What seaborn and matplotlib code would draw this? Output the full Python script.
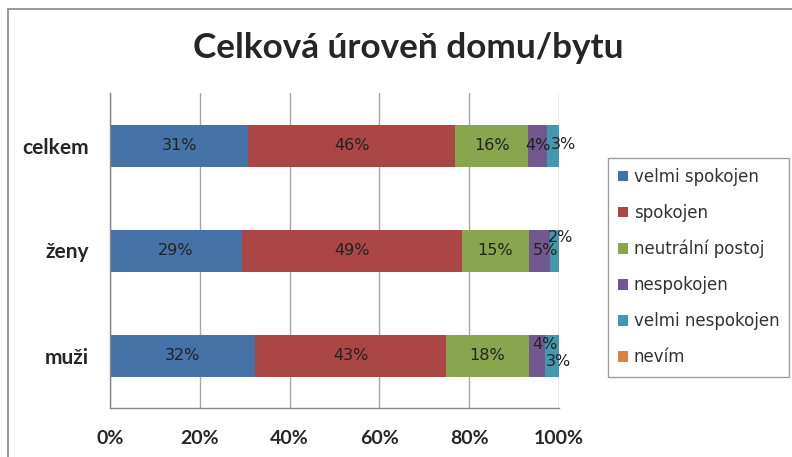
import matplotlib
matplotlib.use("Agg")
import matplotlib.pyplot as plt
import seaborn as sns
import pandas as pd
import numpy as np
from matplotlib.patches import Patch
from matplotlib.lines import Line2D

# ---- data ----
categories = ["celkem", "ženy", "muži"]
series_names = ["velmi spokojen", "spokojen", "neutrální postoj",
                "nespokojen", "velmi nespokojen", "nevím"]
velmi_spokojen = [30.8, 29.3, 32.3]
spokojen = [46.0, 49.1, 42.6]
neutralni = [16.4, 14.9, 18.4]
nespokojen = [4.1, 4.6, 3.6]
velmi_nespokojen = [2.7, 2.1, 3.1]
nevim = [0.0, 0.0, 0.0]
x_ticks = [0, 20, 40, 60, 80, 100]
x_tick_labels = ["0%", "20%", "40%", "60%", "80%", "100%"]
title = "Celková úroveň domu/bytu"

# ---- styles ----
colors = ["#4572A7", "#AA4643", "#89A54E", "#71588F", "#4198AF", "#DB843D"]
# label offsets in pixels (dx, dy; dy positive = up) for crowded labels
label_offsets = {
    (0, 4): (10, 1),
    (1, 3): (6, 0),
    (1, 4): (6, 13),
    (2, 3): (8, 11),
    (2, 4): (6, -6),
}

sns.set_style("white")
plt.rcParams["font.family"] = ["DejaVu Sans"]

values = [velmi_spokojen, spokojen, neutralni, nespokojen, velmi_nespokojen, nevim]
df = pd.DataFrame({"category": categories})
cum = np.zeros(len(categories))
cum_cols = []
for name, vals in zip(series_names, values):
    cum = cum + np.array(vals)
    df["cum_" + name] = cum
    cum_cols.append("cum_" + name)

W, H = 792, 457
fig = plt.figure(figsize=(W / 100, H / 100), dpi=100)
ax = fig.add_axes([110 / W, 1 - 408 / H, 449 / W, 315 / H])

for col, c in reversed(list(zip(cum_cols, colors))):
    sns.barplot(data=df, x=col, y="category", order=categories, color=c,
                saturation=1, width=0.4, orient="h", errorbar=None,
                linewidth=0, ax=ax)

ax.set_xlim(0, 100)
ax.set_ylim(2.5, -0.5)
ax.set_xlabel("")
ax.set_ylabel("")
ax.set_xticks(x_ticks)
ax.set_xticklabels(x_tick_labels, fontsize=14, fontweight="bold", family="Lato")
ax.set_yticks(range(len(categories)))
ax.set_yticklabels(categories, fontsize=15, fontweight="bold", family="Lato")
ax.tick_params(axis="y", which="major", length=0, pad=15)
ax.set_yticks([0.5, 1.5, 2.5], minor=True)
ax.tick_params(axis="y", which="minor", length=6, color="#868686", width=1)
ax.tick_params(axis="x", which="major", length=7, color="#868686", width=1, pad=9)
ax.xaxis.grid(True, color="#a6a6a6", linewidth=1)
ax.set_axisbelow(True)
for s in ["top", "right"]:
    ax.spines[s].set_visible(False)
for s in ["left", "bottom"]:
    ax.spines[s].set_color("#868686")
    ax.spines[s].set_linewidth(1)

# data labels
for si, vals in enumerate(values):
    start = np.zeros(len(categories)) if si == 0 else np.array(
        df[cum_cols[si - 1]])
    for ci, v in enumerate(vals):
        if v <= 0:
            continue
        dx, dy = label_offsets.get((ci, si), (0, 0))
        ax.annotate(f"{round(v)}%", xy=(start[ci] + v / 2, ci),
                    xytext=(dx * 0.72, dy * 0.72), textcoords="offset points",
                    ha="center", va="center", fontsize=11.5, color="#222222")

fig.text(408 / W, 1 - 48 / H, title, ha="center", va="center",
         fontsize=25.3, fontweight="bold", family="Lato")

handles = [Patch(facecolor=c, edgecolor="none") for c in colors]
leg = fig.legend(handles, series_names, loc="upper left",
                 bbox_to_anchor=(608 / W, 1 - 158 / H), fontsize=12,
                 frameon=True, fancybox=False, edgecolor="#868686",
                 handlelength=0.6, handleheight=0.6, handletextpad=0.35,
                 labelspacing=1.08, borderpad=0.6, borderaxespad=0)
leg.get_frame().set_linewidth(1)
for t in leg.get_texts():
    t.set_color("#333333")

# outer chart border (left and top visible)
fig.add_artist(Line2D([8 / W, 8 / W], [0, 1 - 9 / H], color="#888888", lw=1.2,
                      transform=fig.transFigure))
fig.add_artist(Line2D([8 / W, 1], [1 - 9 / H, 1 - 9 / H], color="#888888", lw=1.2,
                      transform=fig.transFigure))

fig.savefig("out.png", dpi=100)
